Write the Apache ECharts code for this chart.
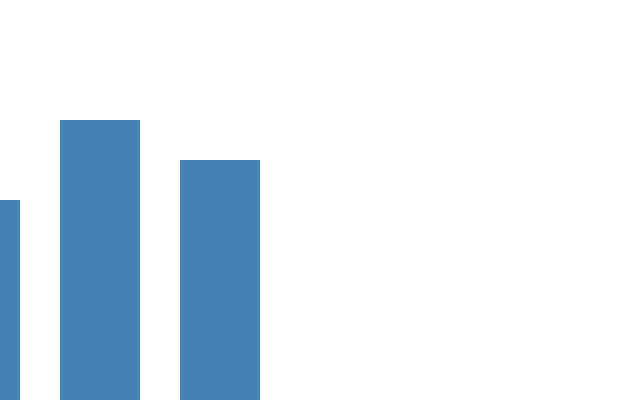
<!DOCTYPE html>
<html>
<head>
<meta charset="utf-8">
<script src="https://cdn.jsdelivr.net/npm/echarts@6/dist/echarts.min.js"></script>
<style>
html, body { margin: 0; padding: 0; background: #fff; }
#chart { width: 640px; height: 400px; }
</style>
</head>
<body>
<div id="chart"></div>
<script>
// three bars, the first one partly off the left edge
var categories = ['A', 'B', 'C'];
var values = [200, 280, 240];

var myChart = echarts.init(document.getElementById('chart'));

var option = {
	animation: false,
	grid: { left: -80, width: 360, top: 0, bottom: 0, outerBoundsMode: 'none', containLabel: false },
	xAxis: {
		type: 'category',
		data: categories,
		show: false
	},
	yAxis: {
		type: 'value',
		min: 0,
		max: 400,
		show: false
	},
	series: [{
		type: 'bar',
		data: values,
		barWidth: 80,
		itemStyle: { color: '#4682b4' }
	}]
};
myChart.setOption(option);
</script>
</body>
</html>
